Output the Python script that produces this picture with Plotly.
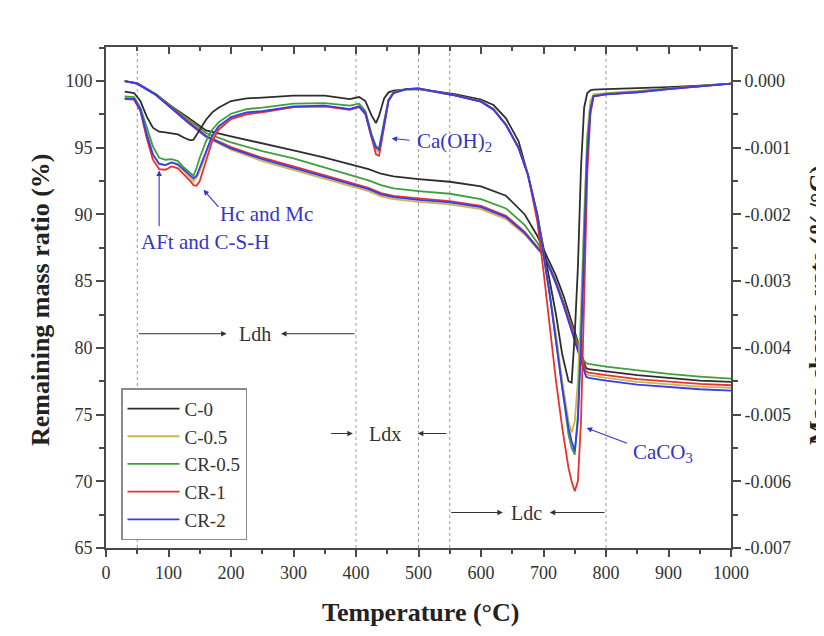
import plotly.graph_objects as go

# ---------------- data ----------------
series_names = ["C-0", "C-0.5", "CR-0.5", "CR-1", "CR-2"]
series_colors = ["#2e2e2e", "#c8b84c", "#3da03d", "#e8322f", "#3a3af2"]

# TG curves: remaining mass ratio (%) vs temperature (left axis)
tg_temp = [30, 50, 80, 105, 130, 160, 200, 250, 300, 350, 400, 420, 440, 460, 500, 550,
           600, 640, 670, 690, 700, 710, 720, 732, 748, 758, 764, 768, 772, 800, 850, 900, 950, 1000]
tg_c0 = [100, 99.85, 99.0, 98.1, 97.3, 96.3, 95.85, 95.35, 94.8, 94.25, 93.65, 93.4, 93.05, 92.85,
         92.65, 92.45, 92.1, 91.4, 90.0, 88.4, 87.4, 86.4, 85.4, 83.9, 81.6, 80.0, 79.0, 78.5, 78.4,
         78.25, 77.95, 77.75, 77.55, 77.45]
tg_c05 = [100, 99.8, 98.95, 97.95, 96.9, 95.8, 94.85, 94.0, 93.35, 92.7, 92.05, 91.75, 91.35, 91.15,
          90.95, 90.75, 90.4, 89.65, 88.5, 87.4, 86.9, 85.9, 84.8, 83.2, 80.9, 79.5, 78.6, 78.05, 77.95,
          77.75, 77.45, 77.25, 77.1, 77.0]
tg_cr05 = [100, 99.8, 99.0, 98.05, 97.2, 96.1, 95.4, 94.75, 94.2, 93.5, 92.8, 92.55, 92.2, 91.95,
           91.75, 91.55, 91.15, 90.45, 89.2, 87.9, 87.1, 86.1, 85.0, 83.4, 81.2, 79.9, 79.1, 78.85, 78.8,
           78.6, 78.3, 78.05, 77.85, 77.7]
tg_cr1 = [100, 99.8, 98.95, 98.0, 97.0, 95.9, 95.05, 94.25, 93.6, 92.95, 92.3, 92.0, 91.6, 91.4,
          91.2, 91.0, 90.65, 89.9, 88.7, 87.6, 87.0, 86.0, 84.9, 83.3, 81.0, 79.6, 78.7, 78.25, 78.15,
          77.95, 77.65, 77.45, 77.3, 77.2]
tg_cr2 = [100, 99.8, 98.95, 97.95, 96.95, 95.85, 94.95, 94.15, 93.5, 92.85, 92.2, 91.9, 91.5, 91.3,
          91.1, 90.9, 90.55, 89.8, 88.6, 87.5, 86.95, 85.95, 84.8, 83.2, 80.8, 79.4, 78.4, 77.85, 77.75,
          77.55, 77.25, 77.05, 76.9, 76.8]

# DTG curves: mass change rate (%/°C) vs temperature (right axis)
dtg_temp = [30, 45, 55, 65, 75, 85, 95, 105, 115, 125, 135, 140, 145, 150, 160, 170, 180, 200, 225,
            250, 300, 350, 390, 405, 415, 425, 432, 437, 445, 452, 460, 480, 500, 530, 560, 600, 620,
            640, 660, 675, 690, 700, 710, 720, 730, 740, 745, 750, 755, 760, 765, 770, 775, 780, 800,
            850, 900, 950, 1000]
dtg_c0 = [-0.00016, -0.00018, -0.0003, -0.00053, -0.0007, -0.00076, -0.00077, -0.00078, -0.0008,
          -0.00085, -0.00089, -0.00088, -0.0008, -0.00072, -0.00058, -0.00047, -0.0004, -0.0003,
          -0.00026, -0.00025, -0.00022, -0.00022, -0.00027, -0.00024, -0.0003, -0.00052, -0.00063,
          -0.00052, -0.00026, -0.00017, -0.000145, -0.000125, -0.00012, -0.00016, -0.0002, -0.00028,
          -0.00036, -0.00056, -0.0009, -0.0014, -0.002, -0.0025, -0.003, -0.0035, -0.0041, -0.0045,
          -0.00452, -0.0038, -0.0028, -0.0013, -0.0004, -0.00018, -0.00014, -0.00013, -0.00012,
          -0.00011, -0.00009, -0.00007, -0.00004]
dtg_c05 = [-0.00026, -0.00027, -0.00042, -0.00078, -0.0011, -0.00125, -0.00126, -0.00122, -0.00126,
           -0.00135, -0.00145, -0.0015, -0.00145, -0.00135, -0.0011, -0.00085, -0.0007, -0.00055,
           -0.00048, -0.00046, -0.00039, -0.00038, -0.00042, -0.00038, -0.00048, -0.00085, -0.00104,
           -0.00106, -0.00066, -0.0003, -0.00017, -0.00012, -0.00011, -0.00016, -0.00022, -0.0003,
           -0.00042, -0.00065, -0.001, -0.0014, -0.002, -0.0026, -0.0032, -0.0038, -0.0045, -0.0051,
           -0.00527, -0.0051, -0.0045, -0.0034, -0.002, -0.0008, -0.0003, -0.0002, -0.00018,
           -0.00015, -0.00011, -0.00008, -0.00004]
dtg_cr05 = [-0.00023, -0.00024, -0.0004, -0.00068, -0.00098, -0.00115, -0.00118, -0.00117, -0.0012,
            -0.0013, -0.00138, -0.00142, -0.0013, -0.00115, -0.0009, -0.00073, -0.00062, -0.00049,
            -0.00042, -0.0004, -0.00034, -0.00033, -0.00037, -0.00034, -0.00045, -0.0008, -0.00098,
            -0.001, -0.0006, -0.00028, -0.00017, -0.00013, -0.00012, -0.00017, -0.00022, -0.00031,
            -0.00042, -0.00065, -0.001, -0.0014, -0.002, -0.0026, -0.0032, -0.0039, -0.0046, -0.0053,
            -0.0055, -0.0056, -0.005, -0.0038, -0.0022, -0.0009, -0.0004, -0.00022, -0.00019,
            -0.00016, -0.00011, -0.00008, -0.00004]
dtg_cr1 = [-0.00027, -0.00028, -0.00045, -0.00085, -0.00118, -0.00132, -0.00133, -0.00128, -0.00131,
           -0.0014, -0.0015, -0.00156, -0.00157, -0.0015, -0.0012, -0.0009, -0.00073, -0.00057,
           -0.0005, -0.00047, -0.00039, -0.00038, -0.00043, -0.00039, -0.0005, -0.00088, -0.0011,
           -0.00112, -0.0007, -0.0003, -0.00018, -0.00012, -0.00011, -0.00016, -0.00022, -0.00031,
           -0.00043, -0.00066, -0.001, -0.0014, -0.0021, -0.00285, -0.0037, -0.0045, -0.0052, -0.0058,
           -0.006, -0.00615, -0.006, -0.0051, -0.0033, -0.0014, -0.0005, -0.00023, -0.0002,
           -0.00017, -0.00012, -0.00008, -0.00004]
dtg_cr2 = [-0.00026, -0.00027, -0.00043, -0.0008, -0.0011, -0.00124, -0.00126, -0.00122, -0.00125,
           -0.00133, -0.00142, -0.00146, -0.00142, -0.0013, -0.00105, -0.00082, -0.00068, -0.00054,
           -0.00047, -0.00045, -0.00038, -0.00037, -0.00042, -0.00038, -0.00048, -0.00083, -0.001,
           -0.00103, -0.00065, -0.00029, -0.00018, -0.00012, -0.00011, -0.00016, -0.00022, -0.00031,
           -0.00043, -0.00066, -0.001, -0.0014, -0.002, -0.0026, -0.0032, -0.0039, -0.0046, -0.0052,
           -0.0054, -0.00555, -0.0051, -0.004, -0.0025, -0.0011, -0.00045, -0.00023, -0.0002,
           -0.00017, -0.00012, -0.00008, -0.00004]

tg_series = [tg_c0, tg_c05, tg_cr05, tg_cr1, tg_cr2]
dtg_series = [dtg_c0, dtg_c05, dtg_cr05, dtg_cr1, dtg_cr2]

x_ticks = list(range(0, 1001, 100))
left_ticks = [65, 70, 75, 80, 85, 90, 95, 100]
right_ticks = [-0.007, -0.006, -0.005, -0.004, -0.003, -0.002, -0.001, 0.0]
right_ticktext = ["-0.007", "-0.006", "-0.005", "-0.004", "-0.003", "-0.002", "-0.001", "0.000"]

region_lines = [50, 400, 500, 550, 800]

# ---------------- figure ----------------
FONT = "Liberation Serif"
AX = "#4a4a4a"
TXT = "#333333"
BLUE = "#3535c8"

fig = go.Figure()

for name, col, tg, dtg in zip(series_names, series_colors, tg_series, dtg_series):
    fig.add_trace(go.Scatter(x=dtg_temp, y=dtg, mode="lines", yaxis="y2", name=name,
                             legendgroup=name, showlegend=False,
                             line=dict(color=col, width=1.8)))
for name, col, tg, dtg in zip(series_names, series_colors, tg_series, dtg_series):
    fig.add_trace(go.Scatter(x=tg_temp, y=tg, mode="lines", yaxis="y", name=name,
                             legendgroup=name, showlegend=True,
                             line=dict(color=col, width=1.8)))

# helper trace for top mirrored axis
fig.add_trace(go.Scatter(x=[], y=[], xaxis="x2", yaxis="y", showlegend=False, hoverinfo="skip"))

# dotted region lines
for t in region_lines:
    fig.add_shape(type="line", xref="x", yref="paper", x0=t, x1=t, y0=0, y1=1,
                  line=dict(color="#9a9a9a", width=1, dash="dot"), layer="below")

annotations = []

def arrow(x_head, y_head, x_tail, y_tail, color, width=1.1, size=1.0):
    annotations.append(dict(x=x_head, y=y_head, ax=x_tail, ay=y_tail, xref="x", yref="y",
                            axref="x", ayref="y", text="", showarrow=True, arrowhead=2,
                            arrowsize=size, arrowwidth=width, arrowcolor=color))

def label(x, y, text, color, size=21):
    annotations.append(dict(x=x, y=y, xref="x", yref="y", text=text, showarrow=False,
                            font=dict(family=FONT, size=size, color=color),
                            xanchor="center", yanchor="middle"))

# peak annotations (blue)
arrow(85, 93.3, 85, 89.0, BLUE)
label(158, 87.9, "AFt and C-S-H", BLUE)
arrow(156, 91.85, 182, 90.45, BLUE)
label(257, 90.0, "Hc and Mc", BLUE)
arrow(457, 95.7, 488, 95.55, BLUE)
label(558, 95.4, "Ca(OH)<sub>2</sub>", BLUE)
arrow(769, 74.0, 836, 72.8, BLUE)
label(891, 72.15, "CaCO<sub>3</sub>", BLUE)

# range arrows (dark)
arrow(193, 81.06, 50, 81.06, TXT, width=1.0, size=1.1)
arrow(280, 81.06, 400, 81.06, TXT, width=1.0, size=1.1)
label(238, 81.06, "Ldh", TXT, 20)
arrow(395, 73.58, 358, 73.58, TXT, width=1.0, size=1.1)
arrow(499, 73.58, 547, 73.58, TXT, width=1.0, size=1.1)
label(447, 73.58, "Ldx", TXT, 20)
arrow(635, 67.66, 550, 67.66, TXT, width=1.0, size=1.1)
arrow(710, 67.66, 800, 67.66, TXT, width=1.0, size=1.1)
label(673, 67.66, "Ldc", TXT, 20)

# axis titles
TITLE_FONT = dict(family=FONT, size=26, color="#222222")
annotations.append(dict(x=0.5024, y=-0.128, xref="paper", yref="paper", showarrow=False,
                        text="<b>Temperature (°C)</b>", xanchor="center", yanchor="middle",
                        font=TITLE_FONT))
annotations.append(dict(x=-0.1056, y=0.495, xref="paper", yref="paper", showarrow=False,
                        text="<b>Remaining mass ratio (%)</b>", textangle=-90,
                        xanchor="center", yanchor="middle", font=TITLE_FONT))
annotations.append(dict(x=1.139, y=0.485, xref="paper", yref="paper", showarrow=False,
                        text="<b>Mass change rate (%/°C)</b>", textangle=-90,
                        xanchor="center", yanchor="middle", font=TITLE_FONT))

tickfont = dict(family=FONT, size=18, color=TXT)

# the page body adds an 8 px margin, so the figure is 8 px smaller on each side
fig.update_layout(
    width=816, height=628,
    margin=dict(l=98, r=93, t=39, b=88),
    paper_bgcolor="white", plot_bgcolor="white",
    showlegend=True,
    legend=dict(x=0.024, y=0.319, xanchor="left", yanchor="top",
                bgcolor="white", bordercolor="#8a8a8a", borderwidth=1.5,
                font=dict(family=FONT, size=19, color=TXT),
                tracegroupgap=0, itemwidth=52),
    xaxis=dict(range=[0, 1000], tickvals=x_ticks, ticks="outside", ticklen=7, tickwidth=1.5,
               tickcolor=AX, showline=True, linecolor=AX, linewidth=1.8, mirror=True,
               showgrid=False, zeroline=False, tickfont=tickfont,
               minor=dict(dtick=50, tick0=0, ticks="outside", ticklen=4, tickcolor=AX, showgrid=False)),
    xaxis2=dict(range=[0, 1000], overlaying="x", side="top", tickvals=x_ticks, ticks="inside",
                ticklen=7, tickwidth=1.5, tickcolor=AX, showticklabels=False, showgrid=False,
                zeroline=False, showline=False,
                minor=dict(dtick=50, tick0=0, ticks="inside", ticklen=4, tickcolor=AX, showgrid=False)),
    yaxis=dict(range=[65, 102.55], tickvals=left_ticks, ticks="outside", ticklen=8, tickwidth=1.5,
               tickcolor=AX, showline=True, linecolor=AX, linewidth=1.8, showgrid=False,
               zeroline=False, tickfont=tickfont,
               minor=dict(dtick=2.5, tick0=65, ticks="outside", ticklen=5, tickcolor=AX, showgrid=False)),
    yaxis2=dict(range=[-0.007, 0.00051], overlaying="y", side="right", tickvals=right_ticks,
                ticktext=right_ticktext, ticks="outside", ticklen=8, tickwidth=1.5, tickcolor=AX,
                showline=True, linecolor=AX, linewidth=1.8, showgrid=False, zeroline=False,
                tickfont=tickfont,
                minor=dict(dtick=0.0005, tick0=-0.007, ticks="outside", ticklen=5, tickcolor=AX,
                           showgrid=False)),
    annotations=annotations,
)

fig.write_html("out.html")
